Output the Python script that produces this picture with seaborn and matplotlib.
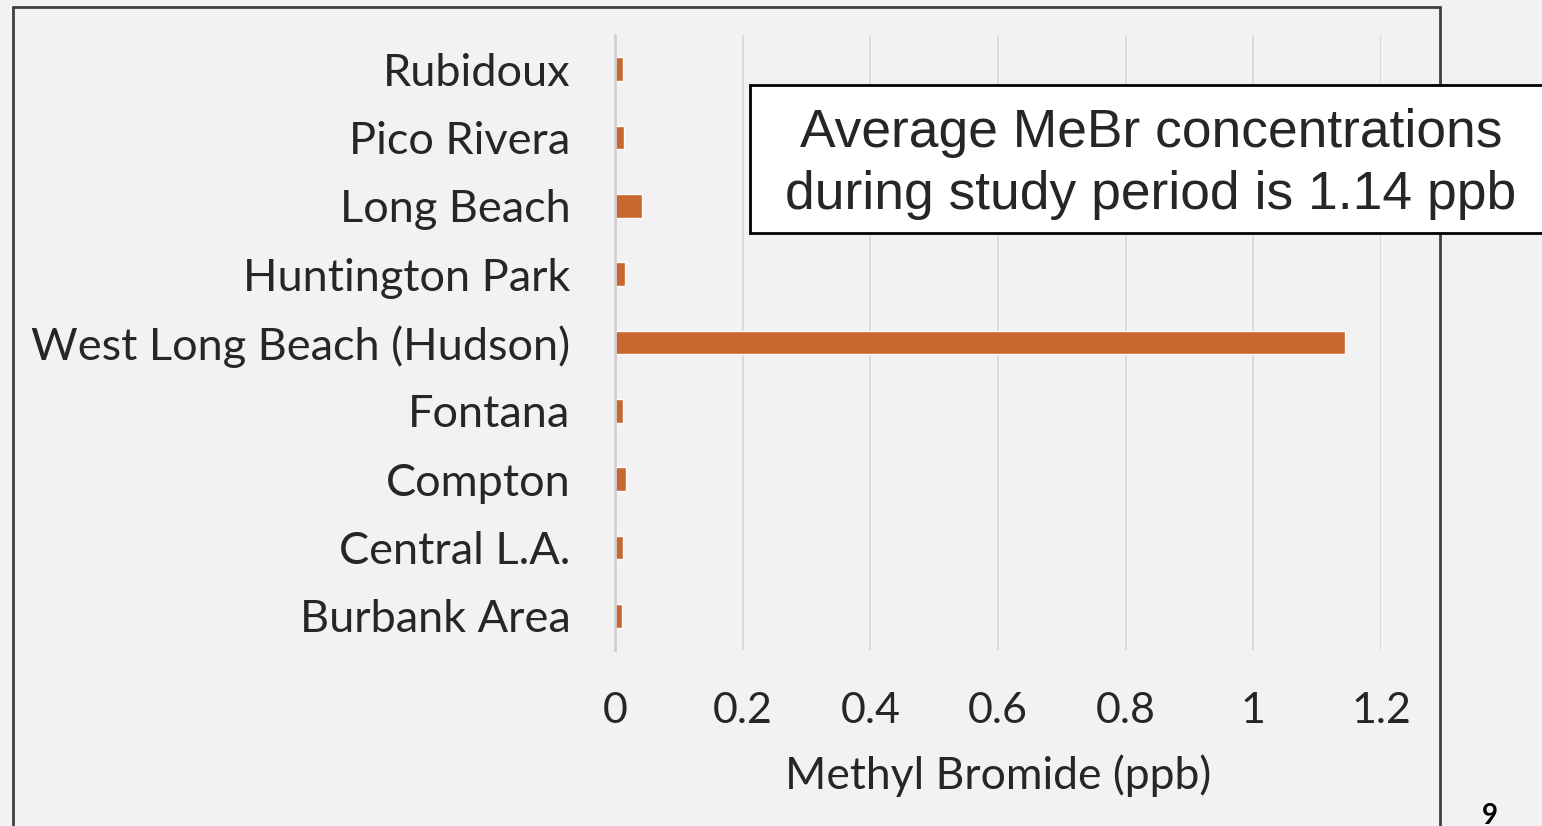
import matplotlib
matplotlib.use("Agg")
import matplotlib.pyplot as plt
from matplotlib.patches import Rectangle
from matplotlib.lines import Line2D
import pandas as pd
import seaborn as sns

sites = ["Rubidoux", "Pico Rivera", "Long Beach", "Huntington Park",
         "West Long Beach (Hudson)", "Fontana", "Compton", "Central L.A.",
         "Burbank Area"]
mebr_ppb = [0.0125, 0.0135, 0.043, 0.016, 1.144, 0.0125, 0.017, 0.013, 0.0115]
x_ticks = [0, 0.2, 0.4, 0.6, 0.8, 1.0, 1.2]
x_tick_labels = ["0", "0.2", "0.4", "0.6", "0.8", "1", "1.2"]

df = pd.DataFrame({"site": sites, "ppb": mebr_ppb})

sns.set_style("white")
plt.rcParams['font.family'] = ['Lato', 'DejaVu Sans']

bg = "#f2f2f2"
text_col = "#262626"
bar_col = "#c8672f"

fig = plt.figure(figsize=(15.42, 8.26), dpi=100, facecolor=bg)
ax = fig.add_axes([615 / 1542, 1 - 650 / 826, (1381 - 615) / 1542, (650 - 35) / 826])
ax.set_facecolor(bg)

sns.barplot(data=df, x="ppb", y="site", order=sites, color=bar_col,
            width=0.35, saturation=1, ax=ax)

ax.set_xlim(0, 1.2)
ax.set_ylim(8.5, -0.5)
ax.set_xticks(x_ticks)
ax.set_xticklabels(x_tick_labels)
ax.grid(axis="x", color="#d9d9d9", linewidth=1.3)
ax.set_axisbelow(True)
for s in ["top", "right", "bottom"]:
    ax.spines[s].set_visible(False)
ax.spines["left"].set_color("#d0d0d0")
ax.spines["left"].set_linewidth(2)
ax.tick_params(axis="x", length=0, labelsize=31, labelcolor=text_col, pad=30)
ax.tick_params(axis="y", length=0, labelsize=32.5, labelcolor=text_col, pad=32)
ax.set_ylabel("")
ax.set_xlabel("Methyl Bromide (ppb)", fontsize=32, color=text_col, labelpad=18)

# slide frame
fw, fh = 1542, 826
frame_kw = dict(color="#404040", linewidth=2, transform=fig.transFigure)
fig.add_artist(Line2D([13 / fw, 13 / fw], [0, 1 - 7 / fh], **frame_kw))
fig.add_artist(Line2D([13 / fw, 1440 / fw], [1 - 7 / fh, 1 - 7 / fh], **frame_kw))
fig.add_artist(Line2D([1440 / fw, 1440 / fw], [0, 1 - 7 / fh], **frame_kw))

# annotation box
fig.add_artist(Rectangle((750 / fw, 1 - 233 / fh), 800 / fw, 148 / fh,
                         transform=fig.transFigure, facecolor="white",
                         edgecolor="black", linewidth=2, zorder=5))
fig.text(1151 / fw, 1 - 147 / fh, "Average MeBr concentrations",
         family="Liberation Sans", fontsize=38.4, color=text_col,
         ha="center", va="baseline", zorder=6)
fig.text(1151 / fw, 1 - 209 / fh, "during study period is 1.14 ppb",
         family="Liberation Sans", fontsize=38.4, color=text_col,
         ha="center", va="baseline", zorder=6)

# page number
fig.text(1490 / fw, 1 - 824 / fh, "9", fontsize=20, fontweight="bold",
         color="black", ha="center", va="baseline")

fig.savefig("out.png", dpi=100, facecolor=bg)
